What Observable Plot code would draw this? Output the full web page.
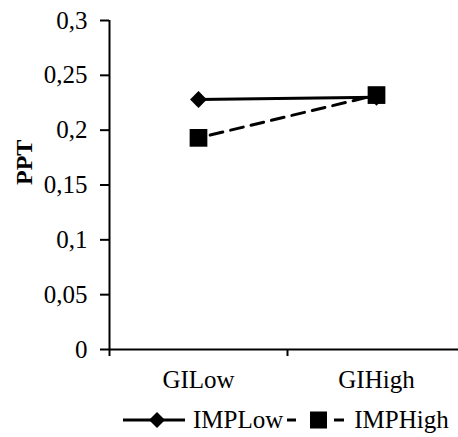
<!DOCTYPE html>
<html>
<head>
<meta charset="utf-8">
<script src="https://cdn.jsdelivr.net/npm/d3@7"></script>
<script src="https://cdn.jsdelivr.net/npm/@observablehq/plot@0.6"></script>
<style>
  html, body { margin: 0; padding: 0; background: #fff; overflow: hidden; }
  .serif { font-family: 'Liberation Serif', serif; }
</style>
</head>
<body>
<div id="chart" class="serif" style="width:458px;height:437px;position:relative;font-family:'Liberation Serif', serif;"></div>
<script>
const categories = ["GILow", "GIHigh"];
const series = ["IMPLow", "IMPHigh"];
const impLow = [0.228, 0.230];
const impHigh = [0.193, 0.232];
const yTicks = [0, 0.05, 0.1, 0.15, 0.2, 0.25, 0.3];
const yTickLabels = ["0", "0,05", "0,1", "0,15", "0,2", "0,25", "0,3"];
const yLabel = "PPT";

const FONT = "Liberation Serif";

const data = categories.flatMap((c, i) => [
  {cat: c, pos: i + 0.5, series: series[0], v: impLow[i]},
  {cat: c, pos: i + 0.5, series: series[1], v: impHigh[i]}
]);
const lowData = data.filter(d => d.series === series[0]);
const highData = data.filter(d => d.series === series[1]);

const plot = Plot.plot({
  width: 458,
  height: 400,
  marginLeft: 109,
  marginRight: 0,
  marginTop: 20,
  marginBottom: 51,
  style: "font-family: 'Liberation Serif', serif; color: #000; background: #fff; overflow: visible;",
  x: {type: "linear", domain: [0, categories.length], range: [109, 465]},
  y: {domain: [0, 0.3]},
  marks: [
    Plot.axisY({ticks: yTicks, tickFormat: d => yTickLabels[yTicks.indexOf(d)], tickSize: 9, tickPadding: 13, label: null, fontSize: 25, fontFamily: FONT, strokeWidth: 2}),
    Plot.axisX({ticks: d3.range(categories.length + 1), tickFormat: () => "", tickSize: 7, label: null, strokeWidth: 2}),
    Plot.axisX({ticks: categories.map((c, i) => i + 0.5), tickFormat: d => categories[Math.floor(d)], tickSize: 0, tickPadding: 21, fontSize: 25, fontFamily: FONT, label: null}),
    Plot.ruleX([0], {stroke: "#000", strokeWidth: 2}),
    Plot.ruleY([0], {stroke: "#000", strokeWidth: 2}),
    Plot.line(lowData, {x: "pos", y: "v", stroke: "#000", strokeWidth: 3}),
    Plot.line(highData, {x: "pos", y: "v", stroke: "#000", strokeWidth: 3, strokeDasharray: "13 8", strokeDashoffset: -12}),
    Plot.dot(lowData, {x: "pos", y: "v", symbol: "diamond2", r: 7.6, fill: "#000", stroke: "none"}),
    Plot.dot(highData, {x: "pos", y: "v", symbol: "square", r: 10, fill: "#000", stroke: "none"}),
    Plot.text([yLabel], {frameAnchor: "left", dx: -85, rotate: -90, fontWeight: "bold", fontSize: 24, fontFamily: FONT, fill: "#000"})
  ]
});
document.getElementById("chart").appendChild(plot);

// Legend
const legend = document.createElement("div");
legend.setAttribute("style", "position:absolute;left:0;top:404px;width:458px;height:32px;display:flex;align-items:center;font-size:25px;color:#000;font-family:'Liberation Serif', serif;");
legend.innerHTML = `
  <div style="display:flex;align-items:center;margin-left:123px">
    <svg width="62" height="20" style="display:block"><line x1="0" y1="10" x2="62" y2="10" stroke="#000" stroke-width="3"/><path d="M34,2 L42,10 L34,18 L26,10 Z" fill="#000"/></svg>
    <span style="margin-left:8px;font-family:'Liberation Serif', serif">${series[0]}</span>
  </div>
  <div style="display:flex;align-items:center;margin-left:4px">
    <svg width="57" height="20" style="display:block"><line x1="0" y1="10" x2="9" y2="10" stroke="#000" stroke-width="3"/><rect x="23" y="1.5" width="17" height="17" fill="#000"/><line x1="47" y1="10" x2="57" y2="10" stroke="#000" stroke-width="3"/></svg>
    <span style="margin-left:10px;font-family:'Liberation Serif', serif">${series[1]}</span>
  </div>`;
document.getElementById("chart").appendChild(legend);
</script>
</body>
</html>
